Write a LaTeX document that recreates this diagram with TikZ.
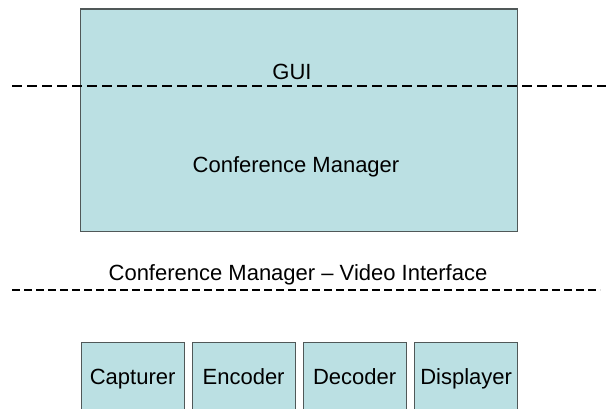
\documentclass[tikz,border=0pt]{standalone}
\usepackage{fontspec}
\setmainfont{Liberation Sans}
\definecolor{boxfill}{HTML}{BBE0E3}
\definecolor{boxline}{HTML}{505858}
\begin{document}
\begin{tikzpicture}[x=1pt,y=-1pt,
  every node/.style={font=\fontsize{22}{26}\selectfont, inner sep=0pt},
  panel/.style={draw=boxline, fill=boxfill, line width=1.2pt, anchor=north west},
  module/.style={panel, minimum width=103pt, minimum height=72pt},
  caption/.style={anchor=base},
  layerline/.style={line width=1.3pt, dash pattern=on 10pt off 5pt},
  ifline/.style={line width=1.1pt, dash pattern=on 8pt off 4pt}]
\useasboundingbox (0,0) rectangle (608,409);
\clip (0,0) rectangle (608,409);

% upper component with its GUI layer
\node[panel, minimum width=437pt, minimum height=222pt] (cm) at (80,8.5) {};
\node[caption] (gui) at (292,80) {GUI};
\node[caption] (cmlabel) at (296,173) {Conference Manager};
\coordinate (guiL) at (12,86);
\coordinate (guiR) at (606,86);
\draw[layerline] (guiL) -- (guiR);

% interface between the manager and the video pipeline
\node[caption] (iflabel) at (298,280) {Conference Manager -- Video Interface};
\coordinate (ifL) at (12,290);
\coordinate (ifR) at (600,290);
\draw[ifline] (ifL) -- (ifR);

% video pipeline modules
\node[module] (cap) at (80.5,341.5) {};
\node[module] (enc) at (191.5,341.5) {};
\node[module] (dec) at (302.5,341.5) {};
\node[module] (dis) at (414,341.5) {};
\node[caption] (capt) at (cap.center |- 0,384) {Capturer};
\node[caption] (enct) at (enc.center |- 0,384) {Encoder};
\node[caption] (dect) at (dec.center |- 0,384) {Decoder};
\node[caption] (dist) at (dis.center |- 0,384) {Displayer};
\end{tikzpicture}
\end{document}
